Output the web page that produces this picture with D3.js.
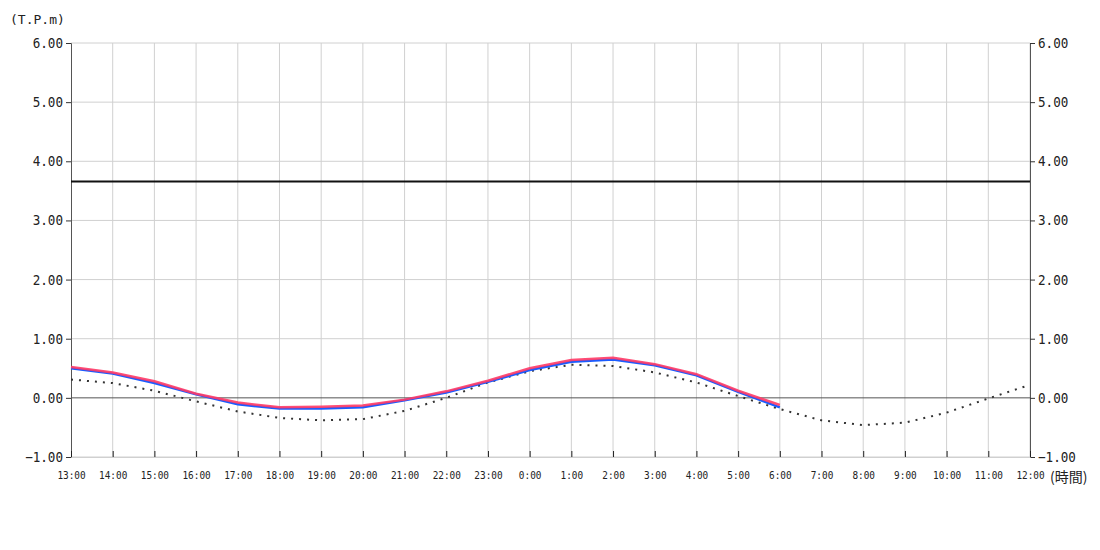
<!DOCTYPE html>
<html>
<head>
<meta charset="utf-8">
<script src="https://cdn.jsdelivr.net/npm/d3@7"></script>
<style>
  body { margin: 0; background: #fff; }
  text { font-family: "DejaVu Sans Mono", monospace; fill: #222; }
</style>
</head>
<body>
<div id="chart"></div>
<script>
// hourly labels, 13:00 .. 12:00 next day
var hours = ["13:00","14:00","15:00","16:00","17:00","18:00","19:00","20:00","21:00","22:00","23:00",
             "0:00","1:00","2:00","3:00","4:00","5:00","6:00","7:00","8:00","9:00","10:00","11:00","12:00"];

// observed (red) and corrected (blue) up to 6:00
var observed = [0.52,0.43,0.28,0.07,-0.08,-0.16,-0.15,-0.13,-0.03,0.11,0.29,0.50,0.64,0.68,0.57,0.40,0.12,-0.12];
var corrected = [0.50,0.41,0.25,0.06,-0.11,-0.18,-0.18,-0.16,-0.04,0.09,0.27,0.47,0.61,0.65,0.55,0.38,0.10,-0.16];

// astronomical tide (dotted)
var tide = [0.31,0.25,0.12,-0.06,-0.23,-0.34,-0.38,-0.36,-0.22,0.00,0.26,0.45,0.56,0.54,0.43,0.26,0.03,-0.19,
            -0.38,-0.46,-0.42,-0.25,-0.01,0.22];

var warningLevel = 3.66;
var yTicks = [-1, 0, 1, 2, 3, 4, 5, 6];

var margin = {top: 43, right: 70, bottom: 93, left: 71},
    W = 1100, H = 550,
    width = W - margin.left - margin.right,
    height = H - margin.top - margin.bottom;

var svg = d3.select("#chart").append("svg")
    .attr("width", W)
    .attr("height", H)
  .append("g")
    .attr("transform", "translate(" + margin.left + "," + margin.top + ")");

var x = d3.scaleLinear().domain([0, hours.length - 1]).range([0, width]);
var y = d3.scaleLinear().domain([-1, 6]).range([height, 0]);

// grid
svg.append("g").selectAll("line.v")
  .data(d3.range(1, hours.length))
  .enter().append("line")
    .attr("x1", d => x(d)).attr("x2", d => x(d))
    .attr("y1", 0).attr("y2", height)
    .style("stroke", "#d0d0d0").style("stroke-width", 1);

svg.append("g").selectAll("line.h")
  .data(yTicks)
  .enter().append("line")
    .attr("x1", 0).attr("x2", width)
    .attr("y1", d => y(d)).attr("y2", d => y(d))
    .style("stroke", d => d === 0 ? "#555" : "#d0d0d0").style("stroke-width", 1);

// axes
var fmt = d3.format(".2f");
var sx = 0.9;  // squeeze y labels a bit, original font is narrow
var left = svg.append("g")
  .call(d3.axisLeft(y).tickValues(yTicks).tickFormat(fmt).tickSize(5).tickPadding(3));
var right = svg.append("g")
  .attr("transform", "translate(" + width + ",0)")
  .call(d3.axisRight(y).tickValues(yTicks).tickFormat(fmt).tickSize(5).tickPadding(3));
var bottom = svg.append("g")
  .attr("transform", "translate(0," + height + ")")
  .call(d3.axisBottom(x).tickValues(d3.range(hours.length)).tickFormat(i => hours[i]).tickSizeInner(-6).tickSizeOuter(0).tickPadding(15));

[left, right].forEach(function(a) {
  a.select(".domain").style("stroke", "#555");
  a.selectAll(".tick line").style("stroke", "#333");
  a.selectAll("text")
    .style("font-size", "14px").style("font-family", "'DejaVu Sans Mono', monospace").style("fill", "#222")
    .attr("x", function() { return +d3.select(this).attr("x") / sx; })
    .attr("transform", "scale(" + sx + ",1)");
});
bottom.select(".domain").style("stroke", "#d0d0d0");
bottom.selectAll(".tick line").style("stroke", "#222");
bottom.selectAll("text").style("font-size", "10px").style("font-family", "'DejaVu Sans Mono', monospace").style("fill", "#222")
  .attr("transform", "scale(0.94,1)");

// warning level
svg.append("line")
  .attr("x1", 0).attr("x2", width)
  .attr("y1", y(warningLevel)).attr("y2", y(warningLevel))
  .style("stroke", "#111").style("stroke-width", 2);

var line = d3.line()
  .x((d, i) => x(i))
  .y(d => y(d));

svg.append("path")
  .datum(tide)
  .attr("d", line)
  .style("fill", "none").style("stroke", "#333")
  .style("stroke-width", 2).style("stroke-dasharray", "2,6");

svg.append("path")
  .datum(corrected)
  .attr("d", line)
  .style("fill", "none").style("stroke", "#1a5cff").style("stroke-width", 2.5);

svg.append("path")
  .datum(observed)
  .attr("d", line)
  .style("fill", "none").style("stroke", "#ff3a66").style("stroke-width", 2.5).style("opacity", 0.9);

// unit labels
svg.append("text")
  .attr("x", -61).attr("y", -19)
  .style("font-size", "13px")
  .text("(T.P.m)");

svg.append("text")
  .attr("x", width + 20).attr("y", height + 25)
  .style("font-size", "14px")
  .style("font-family", "'Noto Sans CJK JP', sans-serif")
  .text("(時間)");
</script>
</body>
</html>
